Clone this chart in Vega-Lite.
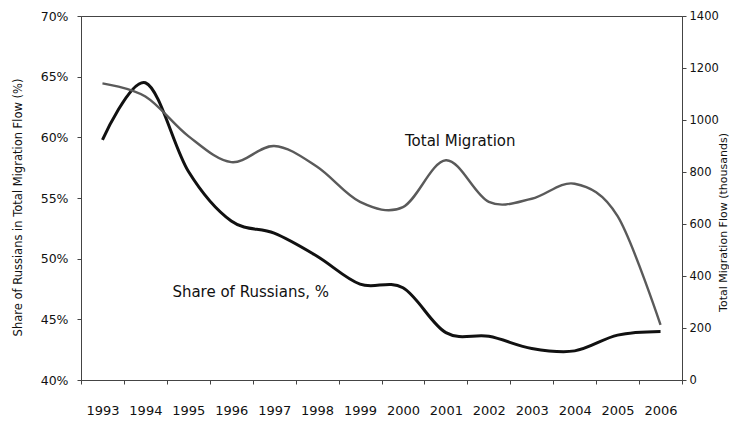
{
  "$schema": "https://vega.github.io/schema/vega-lite/v6.json",
  "autosize": {"type": "none"},
  "padding": {"left": 81, "top": 16, "right": 47, "bottom": 41},
  "width": 601,
  "height": 364,
  "background": "white",
  "config": {
    "font": "DejaVu Sans",
    "view": {"stroke": "#444", "strokeWidth": 1},
    "axis": {"domainColor": "#444", "tickColor": "#444", "labelColor": "#111", "titleColor": "#111", "grid": false, "labelFont": "DejaVu Sans", "titleFont": "DejaVu Sans", "titleFontWeight": "normal"}
  },
  "data": {
    "values": [
      {"year": "1993", "share": 0.598, "total": 1141},
      {"year": "1994", "share": 0.645, "total": 1090},
      {"year": "1995", "share": 0.572, "total": 938},
      {"year": "1996", "share": 0.531, "total": 838},
      {"year": "1997", "share": 0.521, "total": 900},
      {"year": "1998", "share": 0.502, "total": 820},
      {"year": "1999", "share": 0.479, "total": 685},
      {"year": "2000", "share": 0.476, "total": 665},
      {"year": "2001", "share": 0.439, "total": 845},
      {"year": "2002", "share": 0.436, "total": 685},
      {"year": "2003", "share": 0.426, "total": 697},
      {"year": "2004", "share": 0.424, "total": 755},
      {"year": "2005", "share": 0.437, "total": 630},
      {"year": "2006", "share": 0.440, "total": 212}
    ]
  },
  "encoding": {
    "x": {
      "field": "year", "type": "ordinal",
      "scale": {"type": "band", "paddingInner": 0, "paddingOuter": 0},
      "axis": {"title": null, "labelAngle": 0, "tickBand": "extent", "tickSize": 4, "labelPadding": 20, "labelFontSize": 13, "domain": true}
    }
  },
  "layer": [
    {
      "mark": {"type": "line", "interpolate": "cardinal", "tension": 0, "color": "#111", "strokeWidth": 3},
      "encoding": {
        "x": {"field": "year", "type": "ordinal", "bandPosition": 0.5},
        "y": {
          "field": "share", "type": "quantitative",
          "scale": {"domain": [0.4, 0.7], "nice": false, "zero": false},
          "axis": {"orient": "left", "values": [0.4, 0.45, 0.5, 0.55, 0.6, 0.65, 0.7], "format": ".0%", "tickSize": 4, "labelPadding": 9, "labelFontSize": 12.5, "title": "Share of Russians in Total Migration Flow (%)", "titleFontSize": 11.5, "titleX": -63, "titleY": 191, "titleAngle": 270, "titleAlign": "center", "titleBaseline": "middle"}
        }
      }
    },
    {
      "mark": {"type": "line", "interpolate": "cardinal", "tension": 0, "color": "#5a5a5a", "strokeWidth": 2.4},
      "encoding": {
        "x": {"field": "year", "type": "ordinal", "bandPosition": 0.5},
        "y": {
          "field": "total", "type": "quantitative",
          "scale": {"domain": [0, 1400], "nice": false},
          "axis": {"orient": "right", "values": [0, 200, 400, 600, 800, 1000, 1200, 1400], "format": "d", "tickSize": 4, "labelPadding": 3, "labelFontSize": 11.5, "title": "Total Migration Flow (thousands)", "titleFontSize": 11, "titleX": 41, "titleY": 206, "titleAngle": 270, "titleAlign": "center", "titleBaseline": "middle"}
        }
      }
    },
    {
      "data": {"values": [{"year": "2000", "v": 919, "label": "Total Migration"}]},
      "mark": {"type": "text", "align": "left", "baseline": "middle", "dx": 2, "fontSize": 15, "color": "#111"},
      "encoding": {
        "x": {"field": "year", "type": "ordinal", "bandPosition": 0.5},
        "y": {"field": "v", "type": "quantitative", "scale": {"domain": [0, 1400], "nice": false}, "axis": null},
        "text": {"field": "label"}
      }
    },
    {
      "data": {"values": [{"year": "1994", "v": 0.4726, "label": "Share of Russians, %"}]},
      "mark": {"type": "text", "align": "left", "baseline": "middle", "dx": 27, "fontSize": 15, "color": "#111"},
      "encoding": {
        "x": {"field": "year", "type": "ordinal", "bandPosition": 0.5},
        "y": {"field": "v", "type": "quantitative", "scale": {"domain": [0.4, 0.7], "nice": false, "zero": false}, "axis": null},
        "text": {"field": "label"}
      }
    }
  ],
  "resolve": {"scale": {"y": "independent"}, "axis": {"y": "independent"}}
}
